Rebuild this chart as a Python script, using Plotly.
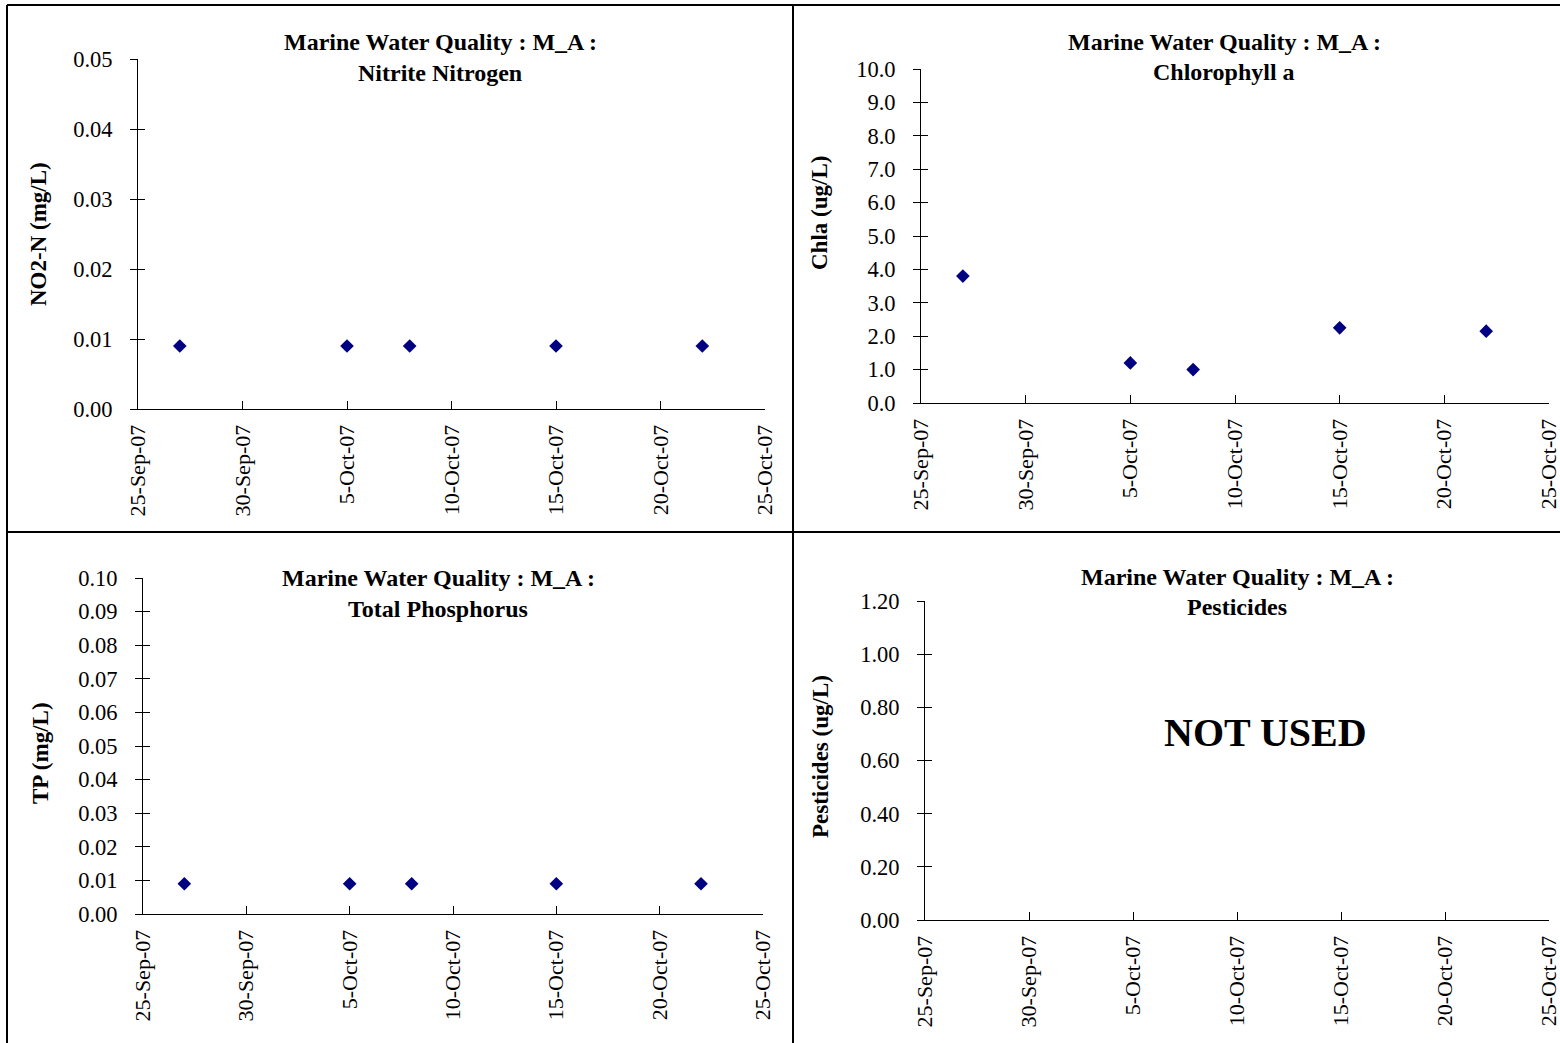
import plotly.graph_objects as go

# ---------------- data ----------------
sample_dates = ["2007-09-27", "2007-10-05", "2007-10-08", "2007-10-15", "2007-10-22"]
no2_values = [0.009, 0.009, 0.009, 0.009, 0.009]
chla_values = [3.8, 1.2, 1.0, 2.25, 2.15]
tp_values = [0.009, 0.009, 0.009, 0.009, 0.009]
pesticide_dates = []
pesticide_values = []

tick_dates = ["2007-09-25", "2007-09-30", "2007-10-05", "2007-10-10",
              "2007-10-15", "2007-10-20", "2007-10-25"]
tick_labels = ["25-Sep-07", "30-Sep-07", "5-Oct-07", "10-Oct-07",
               "15-Oct-07", "20-Oct-07", "25-Oct-07"]

no2_ticks = [0.00, 0.01, 0.02, 0.03, 0.04, 0.05]
chla_ticks = [0.0, 1.0, 2.0, 3.0, 4.0, 5.0, 6.0, 7.0, 8.0, 9.0, 10.0]
tp_ticks = [0.00, 0.01, 0.02, 0.03, 0.04, 0.05, 0.06, 0.07, 0.08, 0.09, 0.10]
pest_ticks = [0.00, 0.20, 0.40, 0.60, 0.80, 1.00, 1.20]

title_line1 = "Marine Water Quality : M_A :"
panel_titles = ["Nitrite Nitrogen", "Chlorophyll a", "Total Phosphorus", "Pesticides"]
y_titles = ["NO2-N (mg/L)", "Chla (ug/L)", "TP (mg/L)", "Pesticides (ug/L)"]

# ---------------- layout helpers ----------------
W, H = 1560, 1043
FONT = "Liberation Serif"
MARKER_COLOR = "#000080"


def px(x):
    return x / W


def py(y):
    return 1 - y / H


fig = go.Figure()

panels = [
    ("x", "y", (138, 765), (409, 59), sample_dates, no2_values, no2_ticks, ".2f"),
    ("x2", "y2", (921, 1549), (403, 69), sample_dates, chla_values, chla_ticks, ".1f"),
    ("x3", "y3", (143, 763), (914, 578), sample_dates, tp_values, tp_ticks, ".2f"),
    ("x4", "y4", (925, 1549), (920, 601), pesticide_dates, pesticide_values, pest_ticks, ".2f"),
]

layout_axes = {}
for i, (xa, ya, xd, yd, dts, vals, yt, fmt) in enumerate(panels):
    n = "" if i == 0 else str(i + 1)
    fig.add_trace(go.Scatter(
        x=dts, y=vals, mode="markers", xaxis=xa, yaxis=ya,
        marker=dict(symbol="diamond", size=10.5, color=MARKER_COLOR, line=dict(width=0)),
        showlegend=False, hoverinfo="x+y"))
    ov = "y" + str(i + 5)
    fig.add_trace(go.Scatter(x=[], y=[], xaxis=xa, yaxis=ov, showlegend=False))

    layout_axes["xaxis" + n] = dict(
        domain=[px(xd[0]), px(xd[1])], anchor=ya, type="date",
        range=[tick_dates[0], tick_dates[-1]],
        tickmode="array", tickvals=tick_dates, ticktext=tick_labels,
        tickangle=-90, ticks="inside", ticklen=8, tickcolor="black", tickwidth=1,
        showline=True, linecolor="black", linewidth=1,
        showgrid=False, zeroline=False, ticklabelstandoff=6, automargin=False,
        ticklabeloverflow="allow",
        tickfont=dict(family=FONT, size=22, color="black"), fixedrange=True)
    layout_axes["yaxis" + n] = dict(
        domain=[py(yd[0]), py(yd[1])], anchor=xa,
        range=[yt[0], yt[-1]], tickmode="array", tickvals=yt,
        tickformat=fmt, ticks="outside", ticklen=7, tickcolor="black", tickwidth=1,
        showline=True, linecolor="black", linewidth=1,
        showgrid=False, zeroline=False, ticklabelstandoff=13, automargin=False,
        ticklabeloverflow="allow",
        tickfont=dict(family=FONT, size=22.5, color="black"), fixedrange=True)
    layout_axes["yaxis" + str(i + 5)] = dict(
        overlaying=ya, anchor=xa, side="left",
        range=[yt[0], yt[-1]], tickmode="array", tickvals=yt,
        ticks="inside", ticklen=7, tickcolor="black", tickwidth=1,
        showticklabels=False, showline=False, showgrid=False, zeroline=False,
        automargin=False, fixedrange=True)

fig.update_layout(**layout_axes)

annotations = []
title_pos = [(440, 42, 73), (1224, 42, 72), (438, 578, 609), (1237, 577, 607)]
for (cx, y1, y2), t in zip(title_pos, panel_titles):
    annotations.append(dict(x=px(cx), y=py(y1), xref="paper", yref="paper",
                            text="<b>" + title_line1 + "</b>", showarrow=False,
                            xanchor="center", yanchor="middle",
                            font=dict(family=FONT, size=24, color="black")))
    annotations.append(dict(x=px(cx), y=py(y2), xref="paper", yref="paper",
                            text="<b>" + t + "</b>", showarrow=False,
                            xanchor="center", yanchor="middle",
                            font=dict(family=FONT, size=24, color="black")))

ytitle_pos = [(38, 234), (820, 213), (40, 753), (820, 757)]
for (cx, cy), t in zip(ytitle_pos, y_titles):
    annotations.append(dict(x=px(cx), y=py(cy), xref="paper", yref="paper",
                            text="<b>" + t + "</b>", showarrow=False, textangle=-90,
                            xanchor="center", yanchor="middle",
                            font=dict(family=FONT, size=23, color="black")))

annotations.append(dict(x=px(1265), y=py(732), xref="paper", yref="paper",
                        text="<b>NOT USED</b>", showarrow=False,
                        xanchor="center", yanchor="middle",
                        font=dict(family=FONT, size=40, color="black")))

shapes = []
border = dict(color="black", width=2)
shapes.append(dict(type="line", xref="paper", yref="paper", x0=px(7), x1=1, y0=py(5), y1=py(5), line=border))
shapes.append(dict(type="line", xref="paper", yref="paper", x0=px(7), x1=1, y0=py(532), y1=py(532), line=border))
shapes.append(dict(type="line", xref="paper", yref="paper", x0=px(7), x1=px(7), y0=py(5), y1=0, line=border))
shapes.append(dict(type="line", xref="paper", yref="paper", x0=px(793), x1=px(793), y0=py(5), y1=0, line=border))

fig.update_layout(
    width=W, height=H, autosize=False,
    margin=dict(l=0, r=0, t=0, b=0, pad=0, autoexpand=False),
    paper_bgcolor="white", plot_bgcolor="white",
    annotations=annotations, shapes=shapes,
    showlegend=False,
    font=dict(family=FONT, color="black"),
)

fig.write_html(
    "out.html",
    config={"displayModeBar": False},
    post_script="document.body.style.margin='0px';document.body.style.overflow='hidden';",
)
